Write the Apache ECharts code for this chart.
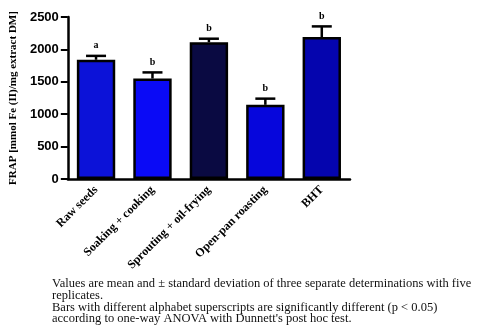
<!DOCTYPE html>
<html><head><meta charset="utf-8">
<script src="https://cdn.jsdelivr.net/npm/echarts@6/dist/echarts.min.js"></script>
<style>html,body{margin:0;padding:0;background:#fff;}#c{width:499px;height:329px;}</style>
</head><body><div id="c"></div>
<script>
var categories = ['Raw seeds', 'Soaking + cooking', 'Sprouting + oil-frying', 'Open-pan roasting', 'BHT'];
var means = [1840, 1550, 2110, 1145, 2190];
var sds = [60, 95, 55, 95, 165];
var letters = ['a', 'b', 'b', 'b', 'b'];
var barColors = ['#0c12d8', '#0a0af6', '#0a0a42', '#0606dc', '#0505ae'];
var yTicks = [0, 500, 1000, 1500, 2000, 2500];
var notes = [
  'Values are mean and \u00b1 standard deviation of three separate determinations with five',
  'replicates.',
  'Bars with different alphabet superscripts are significantly different (p < 0.05)',
  "according to one-way ANOVA with Dunnett's post hoc test."
];

var chart = echarts.init(document.getElementById('c'));
var serif = '"Liberation Serif", "Times New Roman", serif';
var sans = '"Liberation Sans", Arial, sans-serif';

var graphicText = notes.map(function (t, i) {
  return { type: 'text', left: 52, top: 277 + i * 11.9,
    style: { text: t, font: '12.5px ' + serif, fill: '#111' } };
});

chart.setOption({
  animation: false,
  grid: { left: 67, right: 149, top: 17, bottom: 150 },
  xAxis: {
    type: 'category', data: categories,
    axisLine: { lineStyle: { color: '#000', width: 2.5 } },
    axisTick: { alignWithLabel: true, length: 6, lineStyle: { color: '#000', width: 2 } },
    axisLabel: { rotate: 45, interval: 0, margin: 9, color: '#000',
      fontFamily: serif, fontWeight: 'bold', fontSize: 12 }
  },
  yAxis: {
    type: 'value', min: yTicks[0], max: yTicks[yTicks.length - 1], interval: 500,
    name: 'FRAP [mmol Fe (II)/mg extract DM]', nameLocation: 'middle', nameGap: 41,
    nameRotate: 90,
    nameTextStyle: { fontFamily: serif, fontWeight: 'bold', fontSize: 11, color: '#000' },
    axisLine: { show: true, lineStyle: { color: '#000', width: 2.5 } },
    axisTick: { show: true, length: 7, lineStyle: { color: '#000', width: 2 } },
    axisLabel: { color: '#000', fontFamily: sans, fontWeight: 'bold', fontSize: 13, margin: 9,
      formatter: function (v) { return String(v); } },
    splitLine: { show: false }
  },
  series: [
    {
      type: 'bar', barWidth: '68%',
      data: means.map(function (v, i) {
        return { value: v, itemStyle: { color: barColors[i], borderColor: '#000', borderWidth: 2.5 } };
      })
    },
    {
      type: 'custom',
      data: means.map(function (v, i) { return [i, v, sds[i], letters[i]]; }),
      renderItem: function (params, api) {
        var i = api.value(0);
        var top = api.coord([i, api.value(1) + api.value(2)]);
        var base = api.coord([i, api.value(1)]);
        var hw = 10;
        return {
          type: 'group',
          children: [
            { type: 'line', shape: { x1: top[0], y1: base[1], x2: top[0], y2: top[1] },
              style: { stroke: '#000', lineWidth: 2.5 } },
            { type: 'line', shape: { x1: top[0] - hw, y1: top[1], x2: top[0] + hw, y2: top[1] },
              style: { stroke: '#000', lineWidth: 2.5 } },
            { type: 'text', style: { text: letters[i], x: top[0], y: top[1] - 5,
              textAlign: 'center', textVerticalAlign: 'bottom',
              font: 'bold 10px ' + serif, fill: '#000' } }
          ]
        };
      },
      z: 5
    }
  ],
  graphic: graphicText
});
</script></body></html>
